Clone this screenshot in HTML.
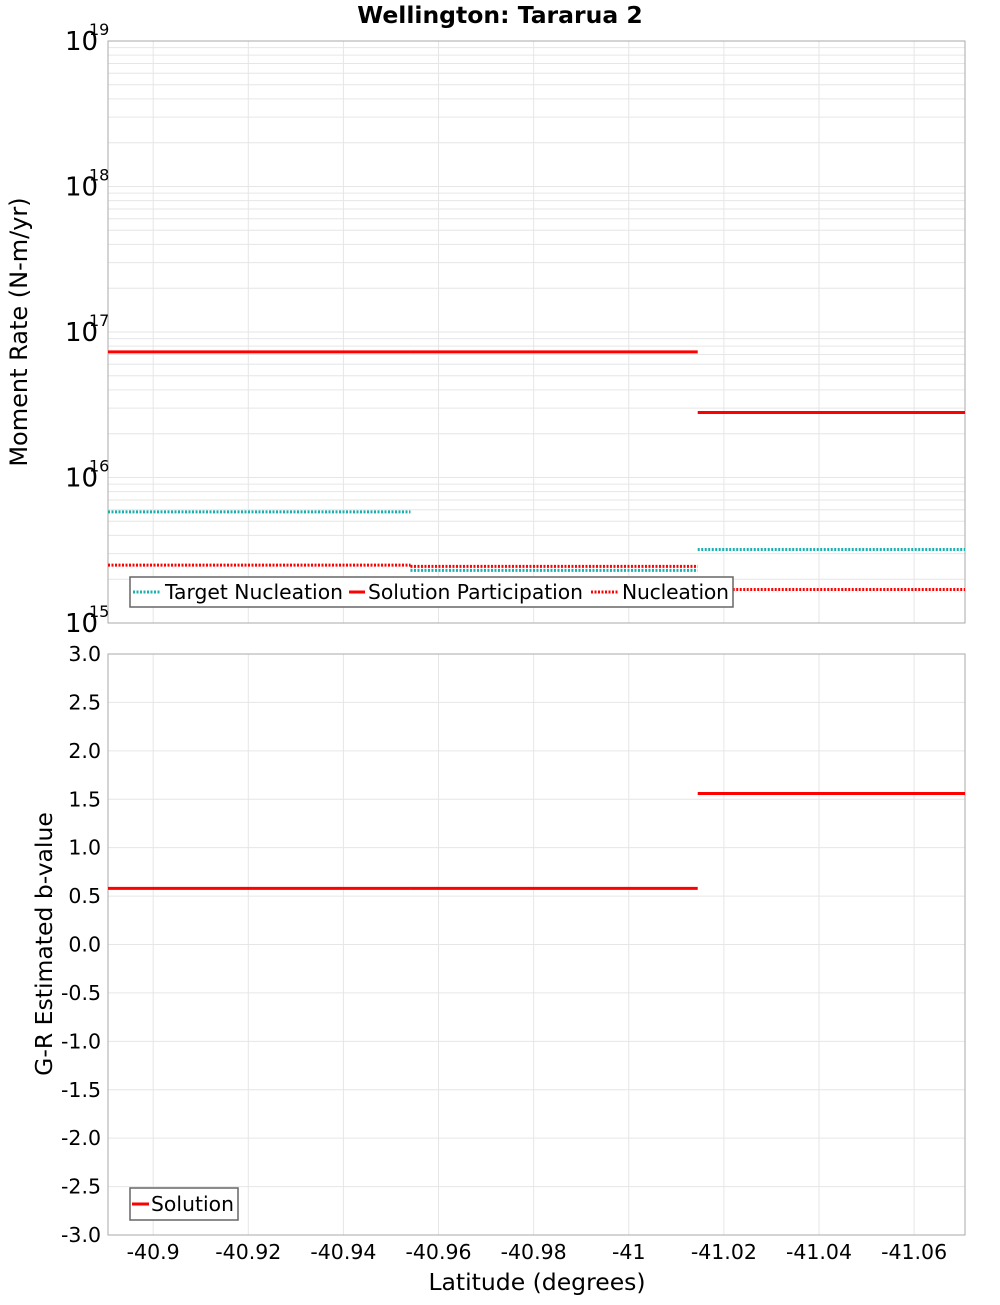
<!DOCTYPE html>
<html><head><meta charset="utf-8"><style>
body{margin:0;background:#fff;}
svg text{font-family:"DejaVu Sans","Liberation Sans",sans-serif;}
</style></head><body>
<svg id="c" width="1000" height="1300" xmlns="http://www.w3.org/2000/svg"></svg>
<script>
const xTicks=[-40.9,-40.92,-40.94,-40.96,-40.98,-41,-41.02,-41.04,-41.06];
const xTickLabels=["-40.9","-40.92","-40.94","-40.96","-40.98","-41","-41.02","-41.04","-41.06"];
const segStart=[-40.8905,-40.9541,-41.0145];
const segEnd=[-40.9541,-41.0145,-41.0707];
const solutionParticipation=[7.3e16,7.3e16,2.8e16];
const targetNucleation=[5.8e15,2.3e15,3.2e15];
const nucleation=[2.5e15,2.45e15,1.7e15];
const bValues=[0.58,0.58,1.56];
const yTicksB=[3,2.5,2,1.5,1,0.5,0,-0.5,-1,-1.5,-2,-2.5,-3];
const decades=[15,16,17,18,19];

const svg=document.getElementById('c');
const NS='http://www.w3.org/2000/svg';
function mk(tag,attrs,parent){const e=document.createElementNS(NS,tag);for(const k in attrs)e.setAttribute(k,attrs[k]);(parent||svg).appendChild(e);return e;}
const L=108,R=965,T1=41,B1=623,T2=654,B2=1235;
const xMin=-40.8905,xMax=-41.0707;
function X(v){return L+(v-xMin)/(xMax-xMin)*(R-L);}
function Y1(v){return T1+(19-Math.log10(v))/4*(B1-T1);}
function Y2(v){return T2+(3-v)/6*(B2-T2);}

let t=mk('text',{x:500,y:23,'text-anchor':'middle','font-size':23.5,'font-weight':'bold'});


t.textContent='Wellington: Tararua 2';

const g1=mk('g',{});


for(let d=15;d<19;d++)for(let m=1;m<10;m++){const y=Y1(m*Math.pow(10,d));mk('line',{x1:L,x2:R,y1:y,y2:y,stroke:'#e6e6e6','stroke-width':1},g1);}
const g2=mk('g',{});


yTicksB.forEach(v=>{const y=Y2(v);mk('line',{x1:L,x2:R,y1:y,y2:y,stroke:'#e6e6e6'},g2);});
xTicks.forEach(v=>{const x=X(v);mk('line',{x1:x,x2:x,y1:T1,y2:B1,stroke:'#e6e6e6'},g1);mk('line',{x1:x,x2:x,y1:T2,y2:B2,stroke:'#e6e6e6'},g2);});

let f=mk('rect',{x:L,y:T1,width:R-L,height:B1-T1,fill:'none',stroke:'#aaa'});


f=mk('rect',{x:L,y:T2,width:R-L,height:B2-T2,fill:'none',stroke:'#aaa'});



decades.forEach(d=>{const y=Y1(Math.pow(10,d));
 const a=mk('text',{x:65,y:y+9,'font-size':26});a.textContent='10';
 
 
 const b=mk('text',{x:89,y:y-6,'font-size':16});b.textContent=String(d);
 
 
});
t=mk('text',{x:27,y:332,'text-anchor':'middle','font-size':24,transform:'rotate(-90 27 332)'});


t.textContent='Moment Rate (N-m/yr)';

yTicksB.forEach(v=>{const a=mk('text',{x:101,y:Y2(v)+7,'text-anchor':'end','font-size':20.5});a.textContent=v.toFixed(1);
 
 });
t=mk('text',{x:52,y:944,'text-anchor':'middle','font-size':23.5,transform:'rotate(-90 52 944)'});


t.textContent='G-R Estimated b-value';

xTicks.forEach((v,i)=>{const a=mk('text',{x:X(v),y:1259,'text-anchor':'middle','font-size':20.5});a.textContent=xTickLabels[i];
 
 });
t=mk('text',{x:537,y:1290,'text-anchor':'middle','font-size':23.5});


t.textContent='Latitude (degrees)';

function series(vals,yf,color,dash,name){
 vals.forEach((v,i)=>{const y=yf(v);const l=mk('line',{x1:X(segStart[i]),x2:X(segEnd[i]),y1:y,y2:y,stroke:color,'stroke-width':3});
  if(dash)l.setAttribute('stroke-dasharray','2,1.5');
  
  });
}
series(targetNucleation,Y1,'#1ab0b0',true,'target-nucleation');
series(nucleation,Y1,'#ff0000',true,'nucleation');
series(solutionParticipation,Y1,'#ff0000',false,'solution-participation');
series(bValues,Y2,'#ff0000',false,'solution-b-value');

const lg=mk('g',{});


mk('rect',{x:130,y:577,width:603,height:30,fill:'#fff',stroke:'#666','stroke-width':1.5},lg);
mk('line',{x1:133,x2:161,y1:592,y2:592,stroke:'#1ab0b0','stroke-width':3,'stroke-dasharray':'2,1.5'},lg);
let a=mk('text',{x:165,y:599,'font-size':20.3,textLength:178},lg);a.textContent='Target Nucleation';
mk('line',{x1:349,x2:365,y1:592,y2:592,stroke:'#ff0000','stroke-width':3},lg);
a=mk('text',{x:368,y:599,'font-size':20.3,textLength:215},lg);a.textContent='Solution Participation';
mk('line',{x1:591,x2:619,y1:592,y2:592,stroke:'#ff0000','stroke-width':3,'stroke-dasharray':'2,1.5'},lg);
a=mk('text',{x:622,y:599,'font-size':20.3,textLength:107},lg);a.textContent='Nucleation';
const lg2=mk('g',{});


mk('rect',{x:130,y:1188,width:108,height:32,fill:'#fff',stroke:'#666','stroke-width':1.5},lg2);
mk('line',{x1:132,x2:149,y1:1204,y2:1204,stroke:'#ff0000','stroke-width':3},lg2);
a=mk('text',{x:151,y:1211,'font-size':20.3,textLength:83},lg2);a.textContent='Solution';
</script>
</body></html>
